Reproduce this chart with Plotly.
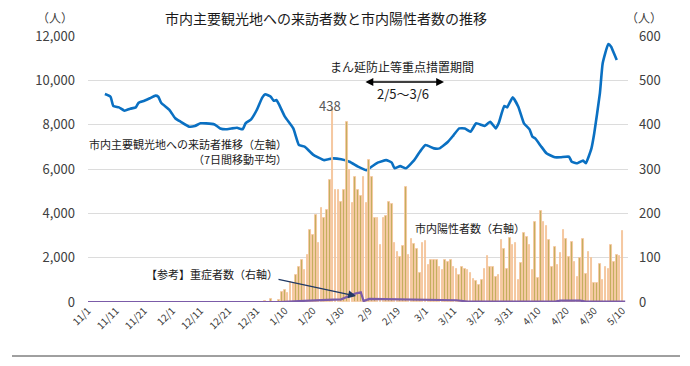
import plotly.graph_objects as go
import pandas as pd

# ---------------- data ----------------
# Visitors to major sightseeing spots (7-day moving average, left axis)
visit_dates = ["2020-11-07","2020-11-09","2020-11-10","2020-11-12","2020-11-14","2020-11-16","2020-11-18",
               "2020-11-19","2020-11-21","2020-11-23","2020-11-25","2020-11-26","2020-11-27","2020-11-30",
               "2020-12-02","2020-12-04","2020-12-07","2020-12-09","2020-12-11","2020-12-13","2020-12-16",
               "2020-12-18","2020-12-20","2020-12-22","2020-12-24","2020-12-26","2020-12-27","2020-12-29",
               "2020-12-30","2020-12-31","2021-01-02","2021-01-03","2021-01-05","2021-01-06","2021-01-07",
               "2021-01-08","2021-01-10","2021-01-13","2021-01-15","2021-01-17","2021-01-20","2021-01-24",
               "2021-01-27","2021-01-30","2021-02-02","2021-02-05","2021-02-08","2021-02-09","2021-02-12",
               "2021-02-15","2021-02-17","2021-02-18","2021-02-20","2021-02-22","2021-02-25","2021-02-27",
               "2021-03-01","2021-03-04","2021-03-06","2021-03-09","2021-03-11","2021-03-13","2021-03-15",
               "2021-03-17","2021-03-19","2021-03-21","2021-03-22","2021-03-24","2021-03-26","2021-03-27",
               "2021-03-29","2021-03-30","2021-04-01","2021-04-03","2021-04-05","2021-04-07","2021-04-08",
               "2021-04-09","2021-04-11","2021-04-13","2021-04-16","2021-04-18","2021-04-21","2021-04-22",
               "2021-04-24","2021-04-26","2021-04-27","2021-04-29","2021-04-30","2021-05-02","2021-05-03",
               "2021-05-05","2021-05-06","2021-05-07","2021-05-08"]
visit_values = [9380,9260,8840,8780,8630,8720,8780,
                8990,9080,9190,9310,9260,8990,8660,
                8290,8130,7910,7940,8060,8060,8010,
                7830,7790,7830,7860,7790,8060,8240,
                8430,8660,9230,9370,9260,9080,9110,
                8890,8360,7830,7080,7010,6650,6400,
                6480,6440,6330,6110,5950,6030,6290,
                6400,6290,6030,6130,6030,6400,6780,
                7080,6930,6930,7230,7530,7830,7830,
                7680,8060,7980,7940,8130,7830,8060,
                8840,8780,9230,8810,8060,7790,7460,
                7380,7040,6710,6530,6530,6560,6330,
                6260,6380,6260,6930,7610,9410,10770,
                11640,11520,11220,10920]

# Daily positive cases in the city (right axis), 2021-01-01 .. 2021-05-10
case_start = "2021-01-01"
case_values = [0,0,3,0,6,0,0,5,23,27,20,46,43,61,80,95,72,106,162,151,
               196,133,211,189,207,275,438,253,253,226,253,407,298,223,283,253,238,283,223,320,
               283,189,189,129,189,194,226,220,132,113,102,126,260,106,141,131,119,65,132,137,
               83,94,95,95,78,72,95,91,94,78,75,61,78,75,72,65,52,47,38,50,
               75,104,78,80,57,60,140,119,74,144,129,132,50,87,155,147,129,72,181,55,
               206,181,171,140,80,125,84,110,163,142,102,136,91,57,100,142,64,113,100,43,
               43,86,50,80,74,128,91,106,104,161]

# Severe cases (reference, right axis)
severe_dates = ["2020-11-01","2021-01-08","2021-01-15","2021-01-20","2021-01-25","2021-01-30",
                "2021-02-02","2021-02-04","2021-02-06","2021-02-07","2021-02-09","2021-02-20",
                "2021-03-01","2021-03-08","2021-03-12","2021-03-16","2021-04-16","2021-04-18",
                "2021-04-25","2021-04-27","2021-05-11"]
severe_values = [0,0,2,4,5,6,14,19,22,2,7,6,6,4,4,1,1,3,3,1,1]

tick_labels = ["11/1","11/11","11/21","12/1","12/11","12/21","12/31","1/10","1/20","1/30",
               "2/9","2/19","3/1","3/11","3/21","3/31","4/10","4/20","4/30","5/10"]
tick_dates = ["2020-11-01","2020-11-11","2020-11-21","2020-12-01","2020-12-11","2020-12-21",
              "2020-12-31","2021-01-10","2021-01-20","2021-01-30","2021-02-09","2021-02-19",
              "2021-03-01","2021-03-11","2021-03-21","2021-03-31","2021-04-10","2021-04-20",
              "2021-04-30","2021-05-10"]

left_ticks = [0, 2000, 4000, 6000, 8000, 10000, 12000]
right_ticks = [0, 100, 200, 300, 400, 500, 600]

case_dates = pd.date_range(case_start, periods=len(case_values), freq="D")

FONT = "Noto Sans CJK JP"

fig = go.Figure()

fig.add_trace(go.Bar(
    x=case_dates, y=case_values, yaxis="y2",
    marker=dict(color="#C2AE5C", line=dict(color="#F8C6A0", width=0.9)),
    width=0.56 * 86400000, showlegend=False, hoverinfo="skip"))

fig.add_trace(go.Scatter(
    x=pd.to_datetime(severe_dates), y=severe_values, yaxis="y2", mode="lines",
    line=dict(color="#7B5BA8", width=2.2), showlegend=False))

fig.add_trace(go.Scatter(
    x=pd.to_datetime(visit_dates), y=visit_values, mode="lines",
    line=dict(color="#0A70C2", width=2.6, shape="spline", smoothing=0.4), showlegend=False))

# page has an 8px body margin: figure is 682x358 placed at (8, 8)
fig.update_layout(
    width=682, height=358,
    margin=dict(l=80, r=62, t=28, b=64),
    plot_bgcolor="white", paper_bgcolor="white",
    font=dict(family=FONT, color="#262626"),
    bargap=0,
    xaxis=dict(type="date", range=["2020-11-01", "2021-05-12"],
               tickvals=pd.to_datetime(tick_dates), ticktext=tick_labels,
               tickangle=-45, tickfont=dict(size=10, color="#404040"),
               showgrid=False, zeroline=False, showline=False, ticks=""),
    yaxis=dict(range=[0, 12000], tickvals=left_ticks, tickformat=",",
               tickfont=dict(size=13, color="#404040"),
               showgrid=True, gridcolor="#DCDCDC", gridwidth=1,
               zeroline=False, showline=False, ticks="", ticklabelstandoff=12),
    yaxis2=dict(range=[0, 600], tickvals=right_ticks, overlaying="y", side="right",
                tickfont=dict(size=13, color="#404040"),
                showgrid=False, zeroline=False, showline=False, ticks="", ticklabelstandoff=10),
)

# page pixel -> paper coordinates (plot area spans page x 88..628, y 36..302)
def px_x(px):
    return (px - 88) / 540.0

def px_y(py):
    return (302 - py) / 266.0

annos = [
    dict(text="市内主要観光地への来訪者数と市内陽性者数の推移", x=px_x(326), y=px_y(18),
         font=dict(size=14, color="#1a1a1a")),
    dict(text="（人）", x=px_x(55), y=px_y(18), font=dict(size=12, color="#404040")),
    dict(text="（人）", x=px_x(644), y=px_y(18), font=dict(size=12, color="#404040")),
    dict(text="市内主要観光地への来訪者推移（左軸）", x=px_x(289), y=px_y(144),
         xanchor="right", font=dict(size=11, color="#1a1a1a")),
    dict(text="（7日間移動平均）", x=px_x(289), y=px_y(159),
         xanchor="right", font=dict(size=11, color="#1a1a1a")),
    dict(text="まん延防止等重点措置期間", x=px_x(402), y=px_y(67), font=dict(size=12, color="#1a1a1a")),
    dict(text="2/5～3/6", x=px_x(403), y=px_y(93), font=dict(size=13, color="#1a1a1a")),
    dict(text="438", x=px_x(330), y=px_y(105), font=dict(size=13, color="#595959")),
    dict(text="市内陽性者数（右軸）", x=px_x(470), y=px_y(228), font=dict(size=11, color="#1a1a1a")),
    dict(text="【参考】重症者数（右軸）", x=px_x(212), y=px_y(274), font=dict(size=11, color="#1a1a1a")),
]
for a in annos:
    a.setdefault("xanchor", "center")
    fig.add_annotation(xref="paper", yref="paper", showarrow=False, yanchor="middle", **a)

# period arrow (double headed)
fig.add_annotation(xref="paper", yref="paper",
                   x=px_x(444), y=px_y(82), ax=-80, ay=0, text="",
                   showarrow=True, arrowhead=2, arrowside="end+start", arrowsize=1.2,
                   arrowwidth=1.3, arrowcolor="#000000")
# severe-case pointer arrow
fig.add_annotation(xref="paper", yref="paper",
                   x=px_x(356), y=px_y(296), ax=-79, ay=-17, text="",
                   showarrow=True, arrowhead=2, arrowsize=1.3, arrowwidth=1.2,
                   arrowcolor="#1F3864")

fig.add_shape(type="line", xref="paper", yref="paper",
              x0=px_x(12), x1=px_x(680), y0=px_y(356), y1=px_y(356),
              line=dict(color="#404040", width=1))

fig.write_html("out.html")
